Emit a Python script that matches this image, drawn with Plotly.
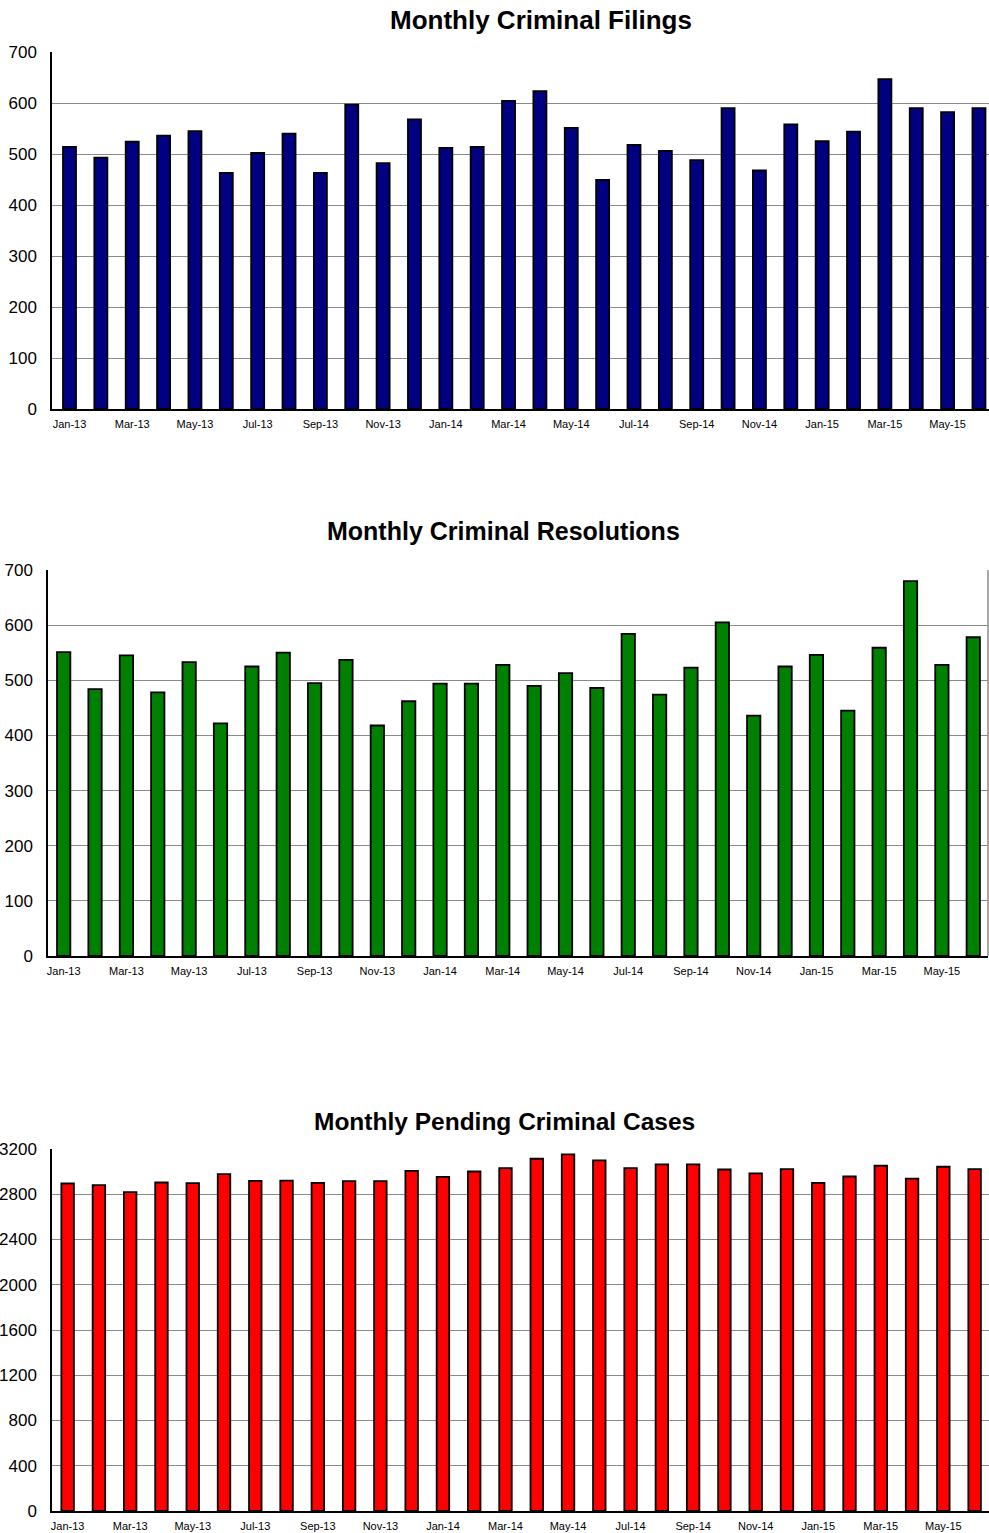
import plotly.graph_objects as go

months = ["Jan-13", "Feb-13", "Mar-13", "Apr-13", "May-13", "Jun-13", "Jul-13", "Aug-13",
          "Sep-13", "Oct-13", "Nov-13", "Dec-13", "Jan-14", "Feb-14", "Mar-14", "Apr-14",
          "May-14", "Jun-14", "Jul-14", "Aug-14", "Sep-14", "Oct-14", "Nov-14", "Dec-14",
          "Jan-15", "Feb-15", "Mar-15", "Apr-15", "May-15", "Jun-15"]

filings = [514, 493, 524, 536, 545, 463, 502, 540, 463, 597, 482, 568, 512, 514,
           604, 623, 551, 449, 518, 506, 488, 590, 468, 558, 525, 544, 647, 590, 582, 590]

resolutions = [551, 484, 545, 478, 533, 422, 525, 550, 495, 537, 418, 462, 494, 494,
               528, 490, 513, 486, 584, 474, 523, 605, 436, 525, 546, 445, 559, 680, 528, 578]

pending = [2895, 2880, 2818, 2904, 2898, 2978, 2918, 2921, 2901, 2916, 2916, 3007, 2954, 3001,
           3031, 3114, 3153, 3099, 3031, 3064, 3064, 3019, 2984, 3022, 2901, 2957, 3052, 2939, 3043, 3022]

titles = ["Monthly Criminal Filings", "Monthly Criminal Resolutions", "Monthly Pending Criminal Cases"]
tick_labels = months[::2]

W, H = 989, 1533
FONT = "Liberation Sans"
GRID = "#8a8a8a"

def py(px):
    return 1 - px / H

fig = go.Figure()

specs = [
    dict(vals=filings, color="#000080", width=0.415, xr=[-0.558, 29.32], yr=[0, 700], dt=100,
         xd=[52 / W, 1.0], yd=[py(409), py(52)], title_x=541, title_y=20, tfs=26),
    dict(vals=resolutions, color="#008000", width=0.425, xr=[-0.5, 29.47], yr=[0, 700], dt=100,
         xd=[48 / W, 988 / W], yd=[py(956), py(570)], title_x=503, title_y=531, tfs=25),
    dict(vals=pending, color="#FF0000", width=0.40, xr=[-0.5, 29.46], yr=[0, 3200], dt=400,
         xd=[52 / W, 1.0], yd=[py(1511), py(1149)], title_x=504, title_y=1121, tfs=24.5),
]

annotations = []
shapes = []
for i, s in enumerate(specs):
    n = "" if i == 0 else str(i + 1)
    fig.add_trace(go.Bar(
        x=months, y=s["vals"], width=s["width"],
        marker=dict(color=s["color"], line=dict(color="black", width=1.8)),
        xaxis="x" + n, yaxis="y" + n, showlegend=False, hoverinfo="skip",
    ))
    fig.update_layout(**{
        "xaxis" + n: dict(
            domain=s["xd"], anchor="y" + n, type="category", range=s["xr"],
            tickmode="array", tickvals=tick_labels, ticktext=tick_labels,
            tickfont=dict(family=FONT, size=11, color="black"),
            showline=True, linecolor="black", linewidth=1.5,
            showgrid=False, ticks="", fixedrange=True, automargin=False,
            ticklabelstandoff=4,
        ),
        "yaxis" + n: dict(
            domain=s["yd"], anchor="x" + n, range=s["yr"], dtick=s["dt"], tick0=0,
            tickfont=dict(family=FONT, size=17, color="black"),
            showline=True, linecolor="black", linewidth=1.5,
            showgrid=True, gridcolor=GRID, gridwidth=1, zeroline=False,
            ticks="", ticklabelstandoff=10, automargin=False, fixedrange=True,
        ),
    })
    annotations.append(dict(
        text="<b>" + titles[i] + "</b>", xref="paper", yref="paper",
        x=s["title_x"] / W, y=py(s["title_y"]), xanchor="center", yanchor="middle",
        showarrow=False, font=dict(family=FONT, size=s["tfs"], color="black"),
    ))

# right frame line on the resolutions chart
shapes.append(dict(type="line", xref="x2 domain", yref="y2 domain", x0=1, x1=1, y0=0, y1=1,
                   line=dict(color=GRID, width=1.5)))

fig.update_layout(
    width=W, height=H, autosize=False,
    margin=dict(l=0, r=0, t=0, b=0, pad=0, autoexpand=False),
    paper_bgcolor="white", plot_bgcolor="white",
    bargap=0.5, annotations=annotations, shapes=shapes,
    font=dict(family=FONT, color="black"),
)

fig.write_html(
    "out.html",
    config={"displayModeBar": False, "responsive": False},
    post_script="document.body.style.margin='0';document.body.style.overflow='hidden';"
                "document.documentElement.style.overflow='hidden';",
)
